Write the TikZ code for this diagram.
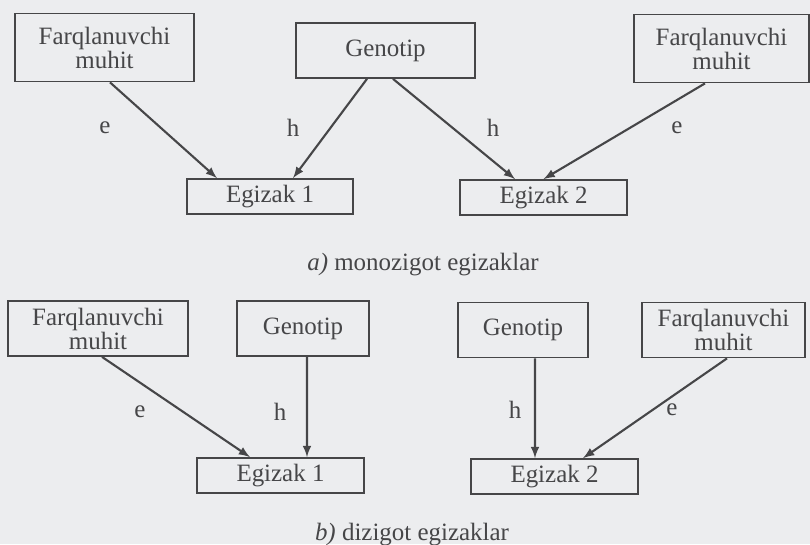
\documentclass[tikz,border=0pt]{standalone}
\usepackage{fontspec}
\setmainfont{Liberation Serif}
\usepackage{xcolor}
\usepackage{tikz}
\usetikzlibrary{arrows}
\usetikzlibrary{shapes}

\definecolor{paper}{RGB}{236,237,239}
\definecolor{ink}{RGB}{70,70,72}

\begin{document}
\begin{tikzpicture}[
        every node/.style = {text = ink, font = \fontsize{14.2}{13.7}\selectfont},
        box/.style = {draw = ink, line width = 1pt, inner sep = 0pt, align = center},
        bigbox/.style = {box, minimum height = 1.36cm},
        genbox/.style = {box, minimum height = 1.1cm},
        twinbox/.style = {box, minimum width = 3.33cm, minimum height = 0.7cm},
        link/.style = {draw = ink, line width = 1.2pt, -latex}
    ]
        \fill[paper] (0, 0) rectangle (16.2, -10.88);
        \useasboundingbox (0, 0) rectangle (16.2, -10.88);

        % a) monozigot
        \node[bigbox, minimum width = 3.58cm] (fm1) at (2.09, -0.95) {Farqlanuvchi\\muhit};
        \node[genbox, minimum width = 3.58cm] (gen1) at (7.71, -1.01) {Genotip};
        \node[bigbox, minimum width = 3.5cm] (fm2) at (14.43, -0.97) {Farqlanuvchi\\muhit};
        \node[twinbox] (twa) at (5.40, -3.93) {Egizak 1};
        \node[twinbox] (twb) at (10.87, -3.95) {Egizak 2};

        \draw[link] ([xshift = 0.11cm]fm1.south) -- ([xshift = -1.06cm]twa.north);
        \draw[link] ([xshift = -0.37cm]gen1.south) -- ([xshift = 0.46cm]twa.north);
        \draw[link] ([xshift = 0.15cm]gen1.south) -- ([xshift = -0.57cm]twb.north);
        \draw[link] ([xshift = -0.33cm]fm2.south) -- (twb.north);

        \node (ea) at (2.10, -2.56) {e};
        \node (ha) at (5.86, -2.56) {h};
        \node (hb) at (9.86, -2.56) {h};
        \node (eb) at (13.54, -2.56) {e};
        \node (capa) at (8.46, -5.30) {\textit{a)} monozigot egizaklar};

        % b) dizigot
        \node[genbox, minimum width = 3.6cm] (fm3) at (1.96, -6.57) {Farqlanuvchi\\muhit};
        \node[genbox, minimum width = 2.64cm] (gen3) at (6.06, -6.57) {Genotip};
        \node[genbox, minimum width = 2.6cm] (gen4) at (10.46, -6.60) {Genotip};
        \node[genbox, minimum width = 3.26cm] (fm4) at (14.47, -6.60) {Farqlanuvchi\\muhit};
        \node[twinbox] (twc) at (5.61, -9.51) {Egizak 1};
        \node[twinbox] (twd) at (11.09, -9.53) {Egizak 2};

        \draw[link] ([xshift = 0.08cm]fm3.south) -- ([xshift = -0.61cm]twc.north);
        \draw[link] ([xshift = 0.08cm]gen3.south) -- ([xshift = 0.53cm]twc.north);
        \draw[link] ([xshift = 0.24cm]gen4.south) -- ([xshift = -0.39cm]twd.north);
        \draw[link] ([xshift = 0.07cm]fm4.south) -- ([xshift = 0.57cm]twd.north);

        \node (ec) at (2.80, -8.24) {e};
        \node (hc) at (5.60, -8.24) {h};
        \node (hd) at (10.30, -8.20) {h};
        \node (ed) at (13.44, -8.20) {e};
        \node (capb) at (8.24, -10.70) {\textit{b)} dizigot egizaklar};
    \end{tikzpicture}
\end{document}
